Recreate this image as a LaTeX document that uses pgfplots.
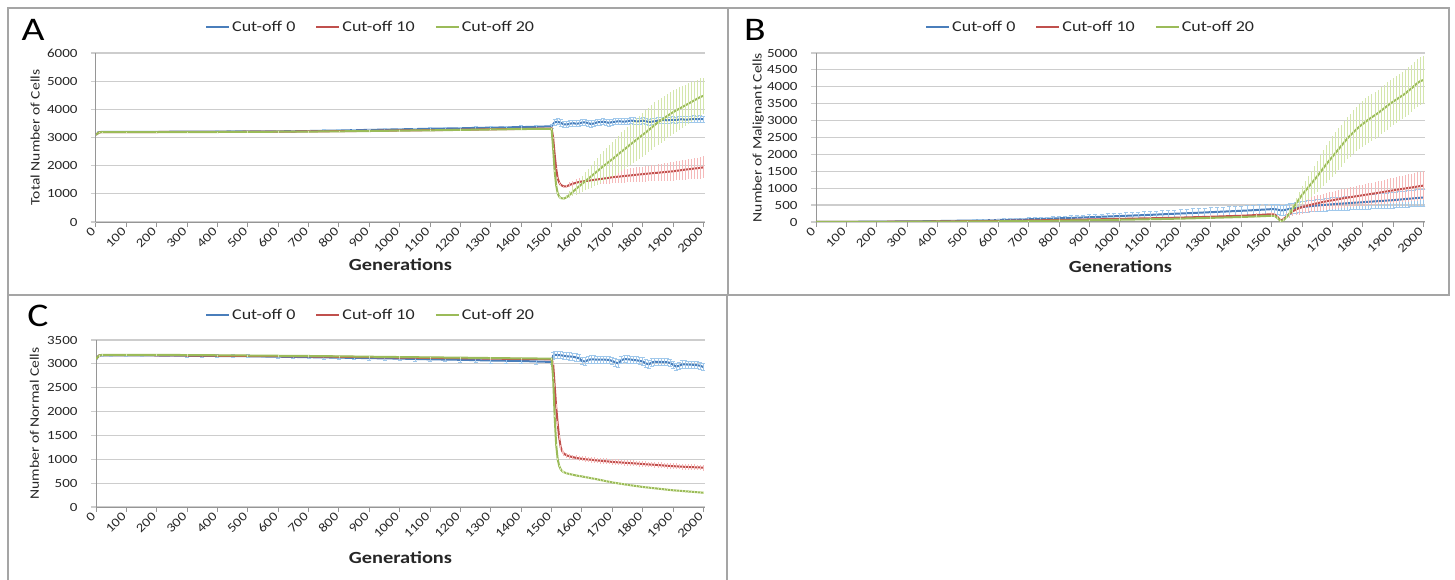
\documentclass[border=0pt]{standalone}
\usepackage{fontspec}
\setmainfont{Carlito}[FakeStretch=1.2]
\usepackage{pgfplots}
\pgfplotsset{compat=1.18}
\usepackage{pgfplotstable}

\definecolor{cBlue}{RGB}{74,126,187}
\definecolor{cRed}{RGB}{192,80,77}
\definecolor{cGreen}{RGB}{155,187,89}
\definecolor{eBlue}{RGB}{160,200,235}
\definecolor{eRed}{RGB}{245,185,185}
\definecolor{eGreen}{RGB}{212,230,172}
\definecolor{gridc}{RGB}{205,205,205}
\definecolor{axisc}{RGB}{150,150,150}
\definecolor{framec}{RGB}{165,165,165}

% ---------- Panel A: total number of cells (x, mean, error) ----------
\pgfplotstableread{
x y e
0 3100 0
10 3190 10
20 3200 20
50 3200 20
100 3200 20
150 3200 20
200 3200 20
250 3205 20
300 3210 20
350 3210 20
400 3210 25
450 3215 25
500 3215 25
550 3220 25
600 3220 30
650 3225 30
700 3230 30
750 3240 30
800 3250 35
850 3260 35
900 3270 35
950 3280 40
1000 3290 40
1050 3300 40
1100 3310 45
1150 3320 45
1200 3330 45
1250 3340 50
1300 3350 50
1350 3360 50
1400 3370 55
1450 3380 55
1500 3400 60
1510 3540 100
1520 3560 110
1530 3520 110
1540 3470 110
1550 3460 110
1560 3490 110
1570 3510 110
1580 3490 110
1590 3500 110
1600 3530 110
1610 3540 110
1620 3510 110
1630 3480 110
1640 3500 110
1650 3540 110
1660 3550 110
1670 3560 110
1680 3540 110
1690 3520 110
1700 3550 110
1710 3560 110
1720 3580 110
1730 3570 110
1740 3560 110
1750 3580 110
1760 3600 110
1770 3590 110
1780 3570 110
1790 3580 110
1800 3600 110
1810 3580 110
1820 3550 110
1830 3560 110
1840 3580 110
1850 3600 110
1860 3610 110
1870 3620 110
1880 3610 110
1890 3620 110
1900 3630 110
1910 3620 110
1920 3640 110
1930 3650 110
1940 3630 110
1950 3640 110
1960 3650 110
1970 3660 110
1980 3650 110
1990 3660 110
2000 3650 110
}\totBlue

\pgfplotstableread{
x y e
0 3100 0
10 3180 10
20 3195 15
100 3195 15
200 3195 15
300 3200 15
400 3200 15
500 3205 20
600 3210 20
700 3215 20
800 3225 20
900 3235 20
1000 3250 25
1100 3260 25
1200 3275 25
1300 3290 25
1400 3305 30
1500 3320 30
1505 3000 30
1510 2400 30
1515 1900 30
1520 1550 30
1525 1400 30
1530 1320 30
1540 1260 30
1550 1270 60
1560 1320 90
1570 1360 110
1580 1390 130
1590 1420 140
1600 1440 150
1610 1450 156
1620 1465 162
1630 1480 168
1640 1495 174
1650 1510 180
1660 1525 186
1670 1540 192
1680 1555 198
1690 1570 204
1700 1590 210
1710 1600 216
1720 1610 222
1730 1620 228
1740 1635 234
1750 1645 240
1760 1655 246
1770 1665 252
1780 1680 258
1790 1690 264
1800 1700 270
1810 1710 276
1820 1720 282
1830 1730 288
1840 1740 294
1850 1750 300
1860 1760 306
1870 1770 312
1880 1780 318
1890 1790 324
1900 1800 330
1910 1815 336
1920 1830 342
1930 1845 348
1940 1860 354
1950 1870 360
1960 1885 366
1970 1900 372
1980 1910 378
1990 1925 384
2000 1940 390
}\totRed

\pgfplotstableread{
x y e
0 3100 0
10 3180 10
20 3195 15
100 3190 15
200 3190 15
300 3195 15
400 3195 15
500 3200 20
600 3205 20
700 3210 20
800 3220 20
900 3230 20
1000 3245 25
1100 3255 25
1200 3270 25
1300 3285 25
1400 3300 30
1500 3310 30
1505 2600 30
1510 1800 30
1515 1300 30
1520 1020 30
1525 900 30
1530 850 30
1540 830 30
1550 880 80
1560 970 120
1570 1070 160
1580 1170 200
1590 1260 240
1600 1350 280
1610 1440 320
1620 1530 360
1630 1620 400
1640 1710 440
1650 1800 480
1660 1890 510
1670 1980 540
1680 2060 570
1690 2150 595
1700 2230 620
1710 2320 640
1720 2410 660
1730 2500 680
1740 2580 700
1750 2670 720
1760 2760 732
1770 2840 744
1780 2930 756
1790 3010 768
1800 3100 780
1810 3180 784
1820 3270 788
1830 3360 792
1840 3450 796
1850 3540 800
1860 3610 796
1870 3680 792
1880 3760 788
1890 3830 784
1900 3900 780
1910 3960 768
1920 4020 756
1930 4080 744
1940 4140 732
1950 4200 720
1960 4260 706
1970 4320 692
1980 4380 678
1990 4440 664
2000 4480 650
}\totGreen

% ---------- Panel B: number of malignant cells ----------
\pgfplotstableread{
x y e
0 0 0
50 2 2
100 5 3
150 8 4
200 10 5
250 14 6
300 18 8
350 22 10
400 28 12
450 35 15
500 42 20
520 45 22
540 48 24
560 52 26
580 56 28
600 60 30
620 64 32
640 68 34
660 72 36
680 77 38
700 82 40
720 87 43
740 92 46
760 98 49
780 104 52
800 110 55
820 116 58
840 122 61
860 128 64
880 135 67
900 142 70
920 148 73
940 155 76
960 162 79
980 169 82
1000 176 85
1020 183 88
1040 190 91
1060 197 94
1080 204 97
1100 211 100
1120 219 103
1140 227 106
1160 235 109
1180 243 112
1200 251 115
1220 259 118
1240 267 121
1260 275 124
1280 283 127
1300 291 130
1320 299 132
1340 307 134
1360 315 136
1380 323 138
1400 331 140
1420 340 142
1440 350 144
1460 360 146
1480 370 148
1500 380 150
1510 380 150
1520 365 150
1530 345 150
1540 350 150
1550 370 150
1560 390 152
1570 405 154
1580 420 156
1590 430 158
1600 440 160
1610 450 163
1620 460 166
1630 470 169
1640 478 172
1650 486 175
1660 494 178
1670 502 181
1680 510 184
1690 518 187
1700 526 190
1710 532 192
1720 538 194
1730 544 196
1740 550 198
1750 556 200
1760 562 202
1770 568 204
1780 574 206
1790 580 208
1800 586 210
1810 592 212
1820 598 214
1830 604 216
1840 610 218
1850 616 220
1860 622 222
1870 628 224
1880 634 226
1890 640 228
1900 646 230
1910 654 232
1920 662 234
1930 670 236
1940 678 238
1950 686 240
1960 694 242
1970 702 244
1980 710 246
1990 718 248
2000 726 250
}\malBlue

\pgfplotstableread{
x y e
0 0 0
100 3 1
200 6 2
300 10 3
400 16 4
500 24 6
600 33 8
700 45 11
800 60 15
900 75 19
1000 92 23
1100 110 28
1200 130 33
1300 155 39
1400 185 46
1450 205 51
1500 230 57
1510 220 60
1520 140 50
1530 40 40
1540 90 60
1550 170 90
1560 250 120
1570 320 150
1580 370 170
1590 410 190
1600 440 200
1610 465 206
1620 490 212
1630 512 218
1640 534 224
1650 555 230
1660 575 236
1670 594 242
1680 612 248
1690 628 253
1700 644 258
1710 660 264
1720 676 270
1730 692 276
1740 708 282
1750 722 287
1760 736 292
1770 750 298
1780 764 304
1790 778 310
1800 792 315
1810 806 320
1820 820 326
1830 834 332
1840 848 338
1850 862 344
1860 877 350
1870 892 356
1880 907 362
1890 922 368
1900 937 373
1910 951 378
1920 965 384
1930 979 390
1940 993 396
1950 1007 402
1960 1021 408
1970 1035 414
1980 1049 420
1990 1063 425
2000 1077 430
}\malRed

\pgfplotstableread{
x y e
0 0 0
100 2 1
200 4 1
300 7 2
400 11 3
500 16 4
600 22 5
700 30 7
800 40 9
900 52 11
1000 66 14
1100 82 17
1200 100 20
1300 122 24
1400 148 28
1450 165 30
1500 185 32
1510 180 30
1520 110 30
1530 20 30
1540 60 30
1550 150 60
1560 270 100
1570 400 140
1580 540 180
1590 670 220
1600 800 260
1610 910 300
1620 1020 340
1630 1130 380
1640 1240 420
1650 1350 460
1660 1470 500
1670 1590 530
1680 1710 560
1690 1820 590
1700 1930 610
1710 2040 614
1720 2150 618
1730 2260 622
1740 2370 626
1750 2480 630
1760 2570 640
1770 2660 650
1780 2750 660
1790 2830 670
1800 2900 680
1810 2970 684
1820 3040 688
1830 3100 692
1840 3160 696
1850 3220 700
1860 3290 700
1870 3360 700
1880 3430 700
1890 3500 700
1900 3560 700
1910 3620 700
1920 3680 700
1930 3740 700
1940 3800 700
1950 3880 700
1960 3950 700
1970 4030 700
1980 4110 700
1990 4170 700
2000 4200 700
}\malGreen

% ---------- Panel C: number of normal cells ----------
\pgfplotstableread{
x y e
0 3100 0
10 3170 15
20 3180 20
50 3180 20
100 3180 20
150 3178 20
200 3175 20
250 3172 25
300 3170 25
350 3168 25
400 3165 25
450 3162 30
500 3160 30
550 3155 30
600 3150 30
650 3145 35
700 3140 35
750 3135 35
800 3130 35
850 3125 40
900 3120 40
950 3115 40
1000 3110 40
1050 3102 45
1100 3095 45
1150 3090 45
1200 3085 50
1250 3078 50
1300 3070 50
1350 3065 55
1400 3060 55
1450 3050 60
1500 3040 60
1505 3170 70
1510 3190 75
1520 3185 75
1530 3180 75
1540 3170 75
1550 3160 75
1560 3155 75
1570 3150 75
1580 3135 75
1590 3120 75
1600 3060 75
1610 3050 75
1620 3080 75
1630 3095 75
1640 3092 75
1650 3090 75
1660 3090 75
1670 3090 75
1680 3085 75
1690 3080 75
1700 3060 75
1710 3030 75
1720 3010 75
1730 3080 75
1740 3100 75
1750 3095 75
1760 3090 75
1770 3082 75
1780 3075 75
1790 3062 75
1800 3050 75
1810 3010 75
1820 2990 75
1830 3030 75
1840 3045 75
1850 3042 75
1860 3040 75
1870 3038 75
1880 3035 75
1890 3020 75
1900 2980 75
1910 2945 75
1920 2960 75
1930 2990 75
1940 2988 75
1950 2985 75
1960 2982 75
1970 2980 75
1980 2970 75
1990 2960 75
2000 2930 75
}\norBlue

\pgfplotstableread{
x y e
0 3100 0
10 3175 15
20 3185 20
100 3185 20
200 3180 20
300 3175 20
400 3170 20
500 3165 20
600 3160 20
700 3155 20
800 3148 20
900 3140 20
1000 3132 20
1100 3125 20
1200 3118 20
1300 3110 20
1400 3102 20
1500 3095 20
1505 3000 30
1510 2550 40
1515 2100 50
1520 1750 50
1525 1450 50
1530 1250 50
1535 1170 50
1540 1120 50
1550 1080 55
1560 1060 55
1570 1045 55
1580 1030 55
1590 1020 55
1600 1010 55
1610 1000 60
1620 995 60
1630 990 60
1640 982 60
1650 975 60
1660 970 60
1670 962 60
1680 958 60
1690 952 60
1700 945 60
1710 940 60
1720 936 60
1730 932 60
1740 928 60
1750 924 60
1760 920 60
1770 915 60
1780 910 60
1790 906 60
1800 900 60
1810 896 60
1820 892 60
1830 888 60
1840 884 60
1850 879 60
1860 874 60
1870 869 60
1880 864 60
1890 860 60
1900 856 60
1910 852 60
1920 848 60
1930 845 60
1940 842 60
1950 839 60
1960 836 60
1970 833 60
1980 830 60
1990 828 60
2000 825 60
}\norRed

\pgfplotstableread{
x y e
0 3100 0
10 3175 15
20 3190 15
100 3190 15
200 3188 15
300 3185 15
400 3180 15
500 3175 15
600 3170 15
700 3165 15
800 3158 15
900 3150 15
1000 3143 15
1100 3136 15
1200 3130 15
1300 3122 15
1400 3115 15
1500 3110 15
1505 2700 20
1510 1900 20
1515 1300 20
1520 1000 20
1525 860 20
1530 790 20
1535 750 20
1540 730 20
1550 705 20
1560 690 20
1570 675 20
1580 662 20
1590 650 20
1600 640 20
1610 628 20
1620 616 20
1630 604 20
1640 592 20
1650 580 20
1660 567 20
1670 554 20
1680 541 20
1690 528 20
1700 515 20
1710 505 20
1720 495 20
1730 485 20
1740 475 20
1750 465 20
1760 456 20
1770 447 20
1780 438 20
1790 429 20
1800 420 20
1810 413 20
1820 406 20
1830 399 20
1840 392 20
1850 385 20
1860 378 20
1870 371 20
1880 364 20
1890 357 20
1900 350 20
1910 345 20
1920 340 20
1930 335 20
1940 330 20
1950 325 20
1960 320 20
1970 315 20
1980 310 20
1990 305 20
2000 300 20
}\norGreen

\pgfplotsset{
  panel/.style={
    scale only axis, width=609pt,
    xmin=0, xmax=2005, ymin=0,
    axis x line*=bottom, axis y line*=left,
    axis line style={axisc, line width=1pt, -},
    xtick={0,100,...,2000},
    tick align=outside, major tick length=5pt,
    xtick style={axisc, line width=1pt},
    ytick style={gridc, line width=1.2pt},
    ymajorgrids, major grid style={gridc, line width=1.2pt},
    /pgf/number format/assume math mode=true,
    /pgf/number format/set thousands separator={},
    ticklabel style={font=\fontsize{12.5}{14}\selectfont, text=black!85},
    xticklabel style={rotate=45, anchor=east},
    yticklabel style={xshift=-10pt},
    ylabel style={font=\fontsize{13}{15}\selectfont, text=black!85, anchor=center},
    xlabel={Generations},
    xlabel style={font=\fontsize{17}{20}\selectfont\bfseries, text=black!85, anchor=center},
    legend columns=3,
    legend style={draw=none, fill=none, anchor=center,
      font=\fontsize{15}{18}\selectfont, text=black!85,
      /tikz/every even column/.append style={column sep=18pt}},
    legend image code/.code={\draw[#1] (0pt,0pt) -- (23pt,0pt);},
  },
  sBlue/.style={cBlue, line width=2pt, mark=none,
    error bars/.cd, y dir=both, y explicit,
    error bar style={eBlue, line width=0.8pt},
    error mark options={rotate=90, eBlue, mark size=2pt, line width=0.8pt}},
  sRed/.style={cRed, line width=2pt, mark=none,
    error bars/.cd, y dir=both, y explicit,
    error bar style={eRed, line width=0.8pt}, error mark=none},
  sGreen/.style={cGreen, line width=2pt, mark=none,
    error bars/.cd, y dir=both, y explicit,
    error bar style={eGreen, line width=0.8pt}, error mark=none},
}

\begin{document}
\begin{tikzpicture}
\path[use as bounding box] (0pt,0pt) rectangle (1455pt,579pt);

% panel frames
\draw[framec, line width=1.5pt] (8pt,284pt) rectangle (728pt,571pt);
\draw[framec, line width=1.5pt] (728pt,284pt) rectangle (1449pt,571pt);
\draw[framec, line width=1.5pt] (727pt,-5pt) -- (727pt,284pt);
\draw[framec, line width=1.5pt] (8pt,-5pt) -- (8pt,284pt);

% A: total cells
\begin{axis}[panel, at={(96pt,357pt)}, anchor=south west, height=169pt,
  ymax=6000, ytick={0,1000,...,6000},
  ylabel={Total Number of Cells},
  ylabel style={at={(axis description cs:-0.100,0.5)}},
  xlabel style={at={(axis description cs:0.5,-0.254)}},
  legend style={at={(axis description cs:0.451,1.154)}}]
\addplot[sBlue] table[x=x, y=y, y error=e] {\totBlue};
\addplot[sRed] table[x=x, y=y, y error=e] {\totRed};
\addplot[sGreen] table[x=x, y=y, y error=e] {\totGreen};
\legend{Cut-off 0, Cut-off 10, Cut-off 20}
\end{axis}

% B: malignant cells
\begin{axis}[panel, at={(816pt,357pt)}, anchor=south west, height=169pt,
  ymax=5000, ytick={0,500,...,5000},
  ylabel={Number of Malignant Cells},
  ylabel style={at={(axis description cs:-0.095,0.5)}},
  xlabel style={at={(axis description cs:0.5,-0.266)}},
  legend style={at={(axis description cs:0.451,1.154)}}]
\addplot[sBlue] table[x=x, y=y, y error=e] {\malBlue};
\addplot[sRed] table[x=x, y=y, y error=e] {\malRed};
\addplot[sGreen] table[x=x, y=y, y error=e] {\malGreen};
\legend{Cut-off 0, Cut-off 10, Cut-off 20}
\end{axis}

% C: normal cells
\begin{axis}[panel, at={(96pt,72pt)}, anchor=south west, height=167pt,
  ymax=3500, ytick={0,500,...,3500},
  ylabel={Number of Normal Cells},
  ylabel style={at={(axis description cs:-0.101,0.5)}},
  xlabel style={at={(axis description cs:0.5,-0.305)}},
  legend style={at={(axis description cs:0.451,1.150)}}]
\addplot[sBlue] table[x=x, y=y, y error=e] {\norBlue};
\addplot[sRed] table[x=x, y=y, y error=e] {\norRed};
\addplot[sGreen] table[x=x, y=y, y error=e] {\norGreen};
\legend{Cut-off 0, Cut-off 10, Cut-off 20}
\end{axis}

% panel letters
\node[font=\fontsize{33}{36}\selectfont] at (33pt,549pt) {A};
\node[font=\fontsize{33}{36}\selectfont] at (755pt,549pt) {B};
\node[font=\fontsize{33}{36}\selectfont] at (38pt,263pt) {C};
\end{tikzpicture}
\end{document}
